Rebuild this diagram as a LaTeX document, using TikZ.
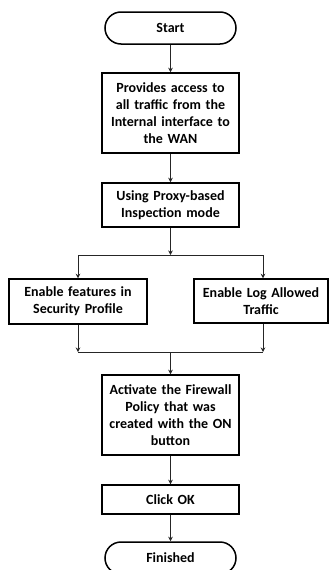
\documentclass[tikz,border=0pt]{standalone}
\usepackage{fontspec}
\setmainfont{Carlito}
\usetikzlibrary{arrows.meta,shapes.misc}
\tikzset{
  stepbox/.style={draw=black, line width=1.5pt, fill=white, align=center,
    inner sep=0pt, font=\bfseries\fontsize{14}{17}\selectfont},
  terminal/.style={draw=black, line width=1.5pt, rounded rectangle, align=center,
    inner sep=0pt, minimum width=131pt, minimum height=32pt,
    font=\bfseries\fontsize{14}{17}\selectfont},
  flow/.style={draw=black!85, line width=0.9pt, -{Stealth[length=4.5pt,width=4.5pt]}},
  link/.style={draw=black!85, line width=0.9pt}
}
\begin{document}
\begin{tikzpicture}[x=1pt,y=-1pt]
\useasboundingbox (0,0) rectangle (329,570);

\node[terminal] (start) at (170.5,28) {Start};
\node[stepbox, minimum width=137pt, minimum height=80pt, text width=134pt] (access) at (170.5,113)
  {Provides access to\\all traffic from the\\Internal interface to\\the WAN};
\node[stepbox, minimum width=137pt, minimum height=44pt, text width=134pt] (proxy) at (170.5,205)
  {Using Proxy-based\\Inspection mode};
\node[stepbox, minimum width=138pt, minimum height=45pt, text width=135pt] (features) at (78,301.5)
  {Enable features in\\Security Profile};
\node[stepbox, minimum width=134pt, minimum height=44pt, text width=133pt] (logtraffic) at (261,301)
  {Enable Log Allowed\\Traffic};
\node[stepbox, minimum width=137pt, minimum height=80pt, text width=136pt] (activate) at (170.5,415)
  {Activate the Firewall\\Policy that was\\created with the ON\\button};
\node[stepbox, minimum width=137pt, minimum height=29pt, text width=134pt] (clickok) at (170.5,499.5)
  {Click OK};
\node[terminal] (finish) at (170.5,558) {Finished};

% junction points of the split and the merge
\coordinate (split) at (170.5,255);
\coordinate (splitL) at (78,255);
\coordinate (splitR) at (263,255);
\coordinate (mergeL) at (78,352);
\coordinate (mergeR) at (263,352);
\coordinate (merge) at (170.5,352);

\draw[flow] (start) -- (access);
\draw[flow] (access) -- (proxy);
\draw[flow] (proxy) -- (split);
\draw[link] (splitL) -- (splitR);
\draw[flow] (splitL) -- (features.north);
\draw[flow] (splitR) -- (splitR |- logtraffic.north);
\draw[flow] (features.south) -- (mergeL);
\draw[flow] (logtraffic.south -| mergeR) -- (mergeR);
\draw[link] (mergeL) -- (mergeR);
\draw[flow] (merge) -- (activate);
\draw[flow] (activate) -- (clickok);
\draw[flow] (clickok) -- (finish);
\end{tikzpicture}
\end{document}
